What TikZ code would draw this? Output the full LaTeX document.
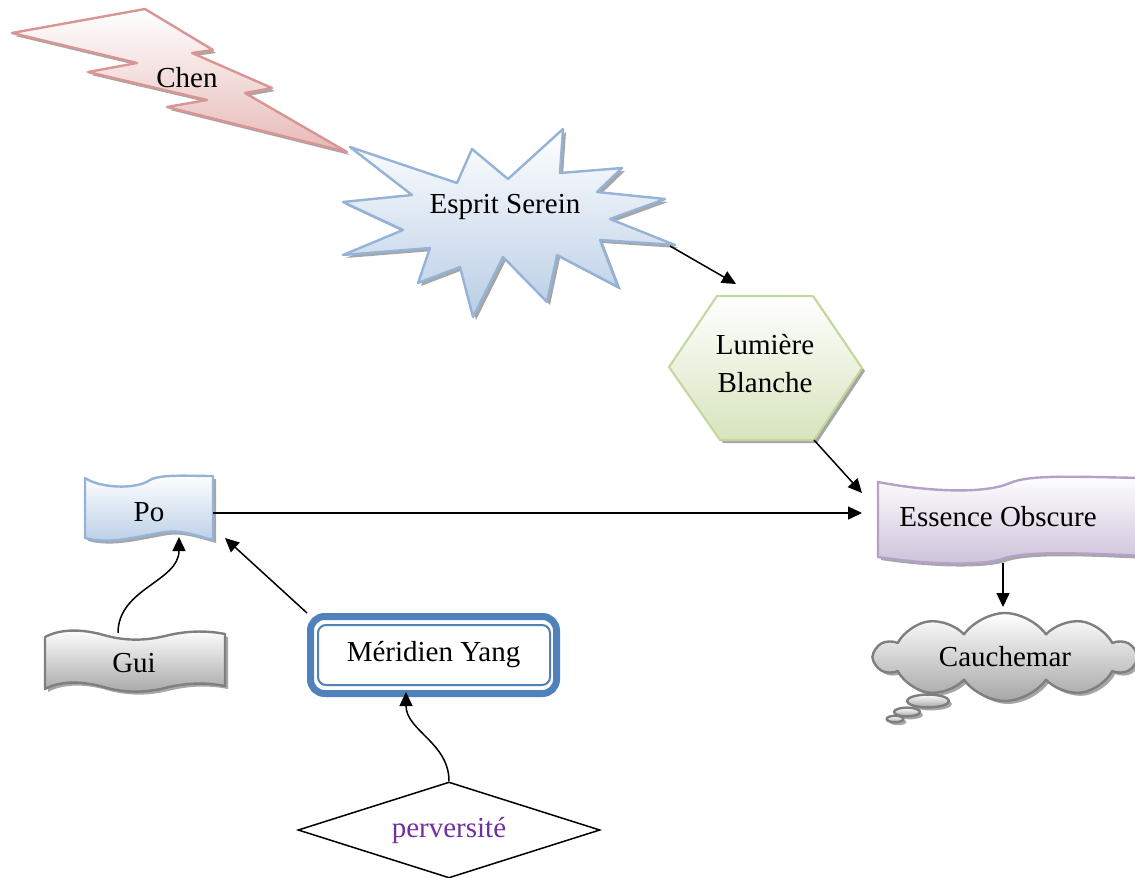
\documentclass[tikz,border=0pt]{standalone}
\usepackage{fontspec}
\setmainfont{Liberation Serif}
\usetikzlibrary{arrows.meta, shapes.geometric, shapes.symbols, shadows}

\definecolor{boltline}{HTML}{D99594}
\definecolor{boltfill}{HTML}{E6B9B8}
\definecolor{blueline}{HTML}{95B3D7}
\definecolor{bluefill}{HTML}{B9CDE5}
\definecolor{greenline}{HTML}{C3D69B}
\definecolor{greenfill}{HTML}{D7E4BD}
\definecolor{purpleline}{HTML}{B3A2C7}
\definecolor{purplefill}{HTML}{CCC1DA}
\definecolor{grayline}{HTML}{7F7F7F}
\definecolor{grayfill}{HTML}{A6A6A6}
\definecolor{yangblue}{HTML}{4F81BD}
\definecolor{pervtext}{HTML}{7030A0}

\begin{document}
\begin{tikzpicture}[x=0.5pt, y=-0.5pt, every node/.style={font=\fontsize{14.5}{19}\selectfont},
    wordshape/.style 2 args={draw=#1, top color=white, bottom color=#2, line width=1.2pt, line join=round,
        drop shadow={shadow xshift=1.5pt, shadow yshift=-1.5pt, fill=gray!70, opacity=1}},
    arr/.style={-{Triangle[length=7pt, width=6.5pt]}, line width=0.75pt}]
        \useasboundingbox (0,0) rectangle (1135,878);
        % Shapes
        \path[wordshape={boltline}{boltfill}] (12,33) -- (145,9) -- (213,50) -- (192,53) -- (272,88) -- (245,93) -- (347,152)
            -- (167,107) -- (207,100) -- (88,72) -- (137,63) -- cycle;
        \node (chen) at (187,78) {Chen};
        \path[wordshape={blueline}{bluefill}] (350,147) -- (457,183) -- (472,149) -- (508,179) -- (563,129) -- (560,173)
            -- (622,168) -- (597,192) -- (665,199) -- (610,219) -- (675,245) -- (600,240) -- (618,287) -- (557,255)
            -- (547,302) -- (503,257) -- (473,317) -- (460,267) -- (418,283) -- (430,248) -- (343,255) -- (403,230)
            -- (343,202) -- (412,195) -- cycle;
        \node (esprit) at (505,207) {Esprit Serein};
        \path[wordshape={greenline}{greenfill}, line width=1pt] (717,296) -- (813,296) -- (862,368) -- (814,440)
            -- (720,440) -- (669,367) -- cycle;
        \node[align=center] (lumiere) at (765,364) {Lumière\\Blanche};
        \path[wordshape={purpleline}{purplefill}] (878,482) .. controls (930,492) and (985,494) .. (1010,483)
            .. controls (1030,474) and (1080,477) .. (1145,478) -- (1145,556)
            .. controls (1080,553) and (1030,551) .. (1005,558) .. controls (985,566) and (930,565) .. (878,557) -- cycle;
        \node (essence) at (998,517) {Essence Obscure};
        \node[cloud, cloud puffs=10, cloud puff arc=110, cloud ignores aspect, minimum width=130pt, minimum height=44pt,
            wordshape={grayline}{grayfill}] (cauchemar) at (1005,657) {Cauchemar};
        \path[wordshape={grayline}{grayfill}] (928,701) ellipse [x radius=10.5pt, y radius=3.2pt];
        \path[wordshape={grayline}{grayfill}] (907,712) ellipse [x radius=6.5pt, y radius=2.2pt];
        \path[wordshape={grayline}{grayfill}] (895,719) ellipse [x radius=4.2pt, y radius=1.6pt];
        \path[wordshape={blueline}{bluefill}] (85,478) .. controls (100,488) and (135,490) .. (150,480)
            .. controls (160,474) and (190,476) .. (213,476) -- (213,540)
            .. controls (195,535) and (180,530) .. (165,532) .. controls (140,536) and (110,545) .. (85,538) -- cycle;
        \node (po) at (149,512) {Po};
        \path[wordshape={grayline}{grayfill}] (45,637) .. controls (60,629) and (80,629) .. (100,634)
            .. controls (120,640) and (140,642) .. (165,636) .. controls (185,631) and (205,630) .. (225,634) -- (225,686)
            .. controls (205,682) and (185,683) .. (165,688) .. controls (140,694) and (120,692) .. (100,686)
            .. controls (80,681) and (60,681) .. (45,689) -- cycle;
        \node (gui) at (134,663) {Gui};
        \node[draw=yangblue, line width=3.5pt, rounded corners=7pt, minimum width=123pt, minimum height=38.5pt, fill=white]
            (meridien) at (433.5,655) {Méridien Yang};
        \draw[yangblue, line width=1pt, rounded corners=4pt] (318,625) rectangle (550,685);
        \node[diamond, draw, line width=0.75pt, aspect=3.1, inner sep=0pt, minimum width=151pt, minimum height=48pt,
            text=pervtext] (perversite) at (449,830) {perversité};
        % Connector ends
        \coordinate (esprit-out) at (670,246);
        \coordinate (lum-in) at (736,284);
        \coordinate (lum-out) at (814,440);
        \coordinate (ess-in) at (862,493);
        \coordinate (po-out) at (213,513);
        \coordinate (ess-left) at (862,513);
        \coordinate (ess-out) at (1003,563);
        \coordinate (cau-in) at (1003,607);
        \coordinate (gui-out) at (118,633);
        \coordinate (po-in) at (179,537);
        \coordinate (po-corner) at (225,538);
        \coordinate (mer-in) at (406,692);
        % Arrows
        \draw[arr] (esprit-out) -- (lum-in);
        \draw[arr] (lum-out) -- (ess-in);
        \draw[arr] (po-out) -- (ess-left);
        \draw[arr] (ess-out) -- (cau-in);
        \draw[arr] (gui-out) to[out=90, in=-90] (po-in);
        \draw[arr] (meridien.north west) -- (po-corner);
        \draw[arr] (perversite.north) to[out=90, in=-90] (mer-in);
    \end{tikzpicture}
\end{document}
